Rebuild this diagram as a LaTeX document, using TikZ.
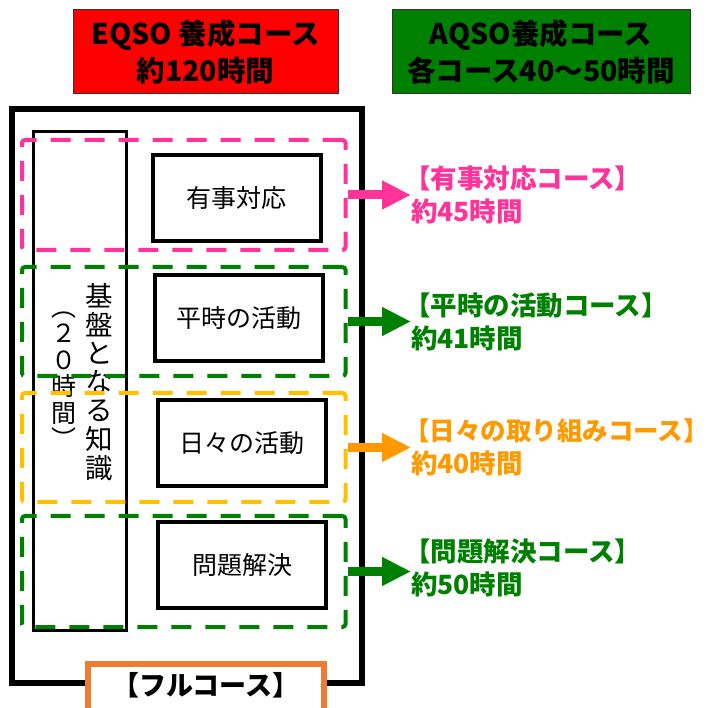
\documentclass[tikz,border=0pt]{standalone}
\usepackage{fontspec}
\setmainfont{Noto Sans CJK JP}
\usetikzlibrary{arrows.meta}
\usetikzlibrary{positioning}
\definecolor{hotpink}{RGB}{255,51,153}
\definecolor{darkgreen}{RGB}{0,128,0}
\definecolor{amber}{RGB}{255,192,0}
\definecolor{tangerine}{RGB}{255,153,0}
\definecolor{rust}{RGB}{237,125,49}
\newcommand{\kakko}{\hspace*{-7pt}}
\tikzset{
  head/.style={rectangle, draw=black!80, line width=1pt, minimum width=265pt, minimum height=84pt, align=center, font=\fontsize{28.5}{37}\selectfont\bfseries},
  unit/.style={rectangle, draw, line width=4pt, minimum width=168pt, minimum height=86pt, font=\fontsize{25}{28}\selectfont},
  group/.style={rectangle, draw=#1, line width=4pt, dash pattern=on 20pt off 14pt, rounded corners=3pt, minimum width=323.5pt, minimum height=110pt},
  course/.style={anchor=west, inner sep=0pt, align=left, text=#1, font=\fontsize{26.5}{33}\selectfont\bfseries},
  feed/.style={draw=#1, line width=9pt, -{Triangle[length=29pt,width=27pt]}},
}
\begin{document}
\begin{tikzpicture}[x=1pt, y=-1pt]
        \useasboundingbox (0,0) rectangle (718,708);
        \clip (0,0) rectangle (718,708);
        \node[head, fill=red] (eqso) at (205.5,52) {EQSO 養成コース\\約120時間};
        \node[head, fill=darkgreen, minimum width=298pt] (aqso) at (541,52) {AQSO養成コース\\各コース40〜50時間};
        \node[rectangle, draw, line width=6pt, minimum width=350pt, minimum height=573pt] (full) at (187,396) {};
        \node[rectangle, draw=rust, fill=white, line width=6pt, anchor=north, minimum width=236pt, minimum height=56pt, inner ysep=8pt, text height=23.5pt, text depth=16.5pt, font=\fontsize{27}{28}\selectfont\bfseries] (fullname) at (206,661) {【フルコース】};
        \node[rectangle, draw, line width=3pt, minimum width=93pt, minimum height=499pt] (base) at (80,381) {};
        \node[align=center, inner sep=0pt, font=\fontsize{27.5}{28.6}\selectfont] (kiban) at (99,382) {基\\盤\\と\\な\\る\\知\\識};
        \node[align=center, inner sep=0pt, font=\fontsize{25}{26.5}\selectfont] (jikan) at (64,380) {︵\\２\\０\\時\\間\\︶};
        \node[group=hotpink] (g1) at (183.75,195) {};
        \node[group=darkgreen, minimum height=109pt] (g2) at (183.75,321.5) {};
        \node[group=amber, minimum height=109pt] (g3) at (183.75,447.5) {};
        \node[group=darkgreen, minimum height=111pt] (g4) at (183.75,571.5) {};
        \node[unit] (u1) at (236.5,198) {有事対応};
        \node[unit] (u2) at (239,318) {平時の活動};
        \node[unit] (u3) at (242,443) {日々の活動};
        \node[unit] (u4) at (242,565) {問題解決};
        \node[course=hotpink] (c1) at (411,195) {\kakko【有事対応コース】\\約45時間};
        \node[course=darkgreen] (c2) at (411,321.5) {\kakko【平時の活動コース】\\約41時間};
        \node[course=tangerine] (c3) at (411,447.5) {\kakko{\fontsize{25.5}{33}\selectfont【日々の取り組みコース】}\\約40時間};
        \node[course=darkgreen] (c4) at (411,568) {\kakko【問題解決コース】\\約50時間};
        \draw[feed=hotpink] (g1.east) -- (g1.east -| c1.west);
        \draw[feed=darkgreen] (g2.east) -- (g2.east -| c2.west);
        \draw[feed=tangerine] (g3.east) -- (g3.east -| c3.west);
        \draw[feed=darkgreen] (g4.east) -- (g4.east -| c4.west);
    \end{tikzpicture}
\end{document}
